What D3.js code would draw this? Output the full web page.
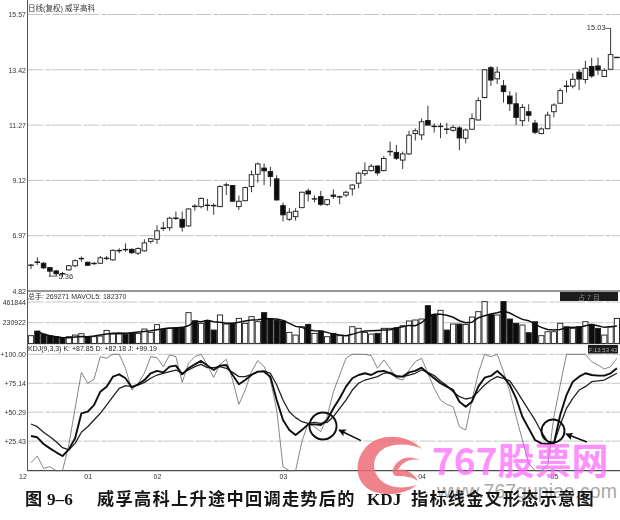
<!DOCTYPE html>
<html lang="zh">
<head>
<meta charset="utf-8">
<script src="https://d3js.org/d3.v7.min.js"></script>
<style>
html,body{margin:0;padding:0;background:#fff;}
svg{display:block;}
text{font-family:"Liberation Sans","Noto Sans CJK SC",sans-serif;}
</style>
</head>
<body>
<svg id="chart" width="620" height="520"></svg>
<script>
const opens=[5.81,5.95,5.90,5.73,5.60,5.50,5.64,5.80,6.07,5.94,5.88,5.90,6.08,6.03,6.38,6.44,6.44,6.29,6.38,6.75,6.83,7.27,7.28,7.66,7.61,7.35,8.12,8.10,8.16,8.15,8.10,8.93,8.92,8.10,8.33,8.88,9.36,9.60,9.47,9.18,8.14,7.61,7.71,8.06,8.71,8.39,8.49,8.19,8.55,8.47,8.55,8.79,9.01,9.38,9.50,9.68,9.50,10.23,10.21,9.91,10.15,10.94,10.89,11.45,11.23,11.21,11.12,11.07,11.16,10.76,11.11,11.47,12.34,13.50,13.07,12.80,12.40,12.10,11.44,11.79,11.35,10.94,11.13,11.79,12.12,12.79,12.79,13.33,13.04,13.55,13.57,13.16,13.44,13.89];
const closes=[5.83,5.93,5.72,5.59,5.49,5.48,5.80,6.00,6.09,5.82,5.90,6.11,6.10,6.40,6.40,6.42,6.31,6.47,6.69,6.85,7.16,7.25,7.65,7.64,7.30,8.01,8.10,8.42,8.14,8.13,8.88,8.95,8.31,8.31,8.84,9.34,9.76,9.49,9.27,8.36,7.78,7.88,7.92,8.66,8.59,8.41,8.19,8.37,8.50,8.49,8.66,8.94,9.40,9.50,9.67,9.41,9.97,10.25,9.98,10.15,10.88,11.05,11.40,11.27,11.21,11.23,11.10,11.18,10.77,11.08,11.52,12.22,13.42,13.02,13.33,12.57,12.10,11.57,11.96,11.65,10.99,11.12,11.66,12.05,12.61,12.77,13.05,13.06,13.48,13.18,13.41,13.40,14.01,13.91];
const highs=[5.87,6.13,5.95,5.73,5.64,5.56,5.82,6.05,6.16,5.96,5.94,6.18,6.18,6.44,6.48,6.67,6.48,6.52,6.83,6.88,7.38,7.51,7.71,7.91,7.91,8.03,8.20,8.46,8.40,8.23,8.93,9.03,8.94,8.53,8.88,9.50,9.82,9.78,9.65,9.32,8.26,8.04,8.04,8.68,8.81,8.54,8.71,8.40,8.77,8.53,8.72,8.97,9.46,9.82,9.76,9.72,10.07,10.63,10.50,10.24,11.05,11.14,11.53,12.02,11.34,11.36,11.36,11.27,11.23,11.14,11.73,12.35,13.44,13.57,13.54,13.02,12.59,12.54,12.09,12.08,11.47,11.18,11.79,12.12,12.70,13.00,13.28,13.44,13.77,13.89,13.90,13.48,15.03,13.92];
const lows=[5.67,5.83,5.67,5.38,5.41,5.36,5.61,5.74,5.96,5.80,5.83,5.87,6.03,6.00,6.29,6.35,6.25,6.22,6.35,6.67,6.65,7.16,7.16,7.58,7.13,7.32,7.94,8.03,7.94,7.78,8.08,8.55,8.30,7.97,8.31,8.66,9.03,8.94,8.88,8.33,7.52,7.54,7.56,8.04,8.30,8.27,8.13,8.13,8.40,8.19,8.46,8.53,8.81,9.29,9.46,9.31,9.47,10.07,9.91,9.56,10.11,10.67,10.69,11.27,10.98,10.76,10.92,11.01,10.30,10.56,11.08,11.44,12.31,12.79,12.87,12.14,11.82,11.27,11.23,11.40,10.92,10.91,11.11,11.57,12.09,12.54,12.70,12.63,12.89,13.11,13.22,13.15,13.41,13.88];
// volume, thousands of lots
const volumes=[86,138,101,86,75,67,75,93,108,75,75,82,145,104,104,101,115,112,160,123,209,156,168,175,175,343,253,224,253,149,317,216,224,279,224,298,242,343,279,261,250,123,93,186,212,112,138,75,112,86,86,186,168,123,104,112,168,168,175,197,250,261,272,421,324,369,149,216,216,212,294,354,466,324,317,466,272,224,205,119,242,86,130,130,224,186,168,186,242,212,168,93,186,279];
const maVol=[null,130,104,86,75,63,63,71,78,75,82,93,104,112,115,112,119,127,134,142,153,164,171,171,179,197,246,242,257,242,235,224,224,235,250,261,264,276,272,272,257,224,190,179,149,142,138,123,101,93,86,101,123,138,142,145,149,153,171,186,201,197,231,294,324,324,313,291,253,231,235,287,309,328,343,361,339,302,268,253,212,179,156,149,156,175,179,179,197,212,197,179,186,194];
const kLine=[29.8,28.7,22.9,19.2,15.8,12.6,18.3,27.8,49.3,50.7,56.4,67.9,72.2,80.8,82.8,79.4,71.6,74.2,77.9,83.7,85.7,84.5,89.4,90.3,82.8,88.0,91.4,94.3,90.3,86.5,90.3,90.8,82.2,74.2,77.9,82.2,85.1,85.1,80.8,60.7,43.6,35.0,30.7,35.0,39.8,39.8,39.3,43.6,53.6,62.2,72.2,79.4,82.2,83.7,82.2,85.1,85.7,83.7,80.8,80.8,84.5,85.7,88.5,83.7,79.4,75.1,72.2,69.3,59.3,55.0,59.3,72.2,79.9,81.4,85.7,80.8,73.6,62.2,46.4,36.4,26.4,23.5,22.9,23.5,47.9,65.0,76.5,80.8,83.7,82.2,81.7,81.7,83.7,88.0];
const dLine=[40.1,37.8,33.0,29.2,24.9,19.8,17.8,23.5,33.0,37.8,43.6,49.3,56.4,63.6,70.8,73.1,72.2,73.6,75.9,79.4,82.2,83.7,85.1,86.5,83.7,86.5,89.4,91.4,88.5,88.5,89.4,88.0,84.5,80.8,80.8,82.8,85.1,85.7,83.7,73.6,60.7,50.7,45.6,42.1,40.7,41.5,40.7,41.5,46.4,53.6,60.7,69.3,75.1,77.9,79.4,80.8,83.7,84.5,81.7,80.8,82.2,83.7,86.5,84.5,81.7,77.1,73.1,67.9,63.6,61.6,62.8,67.9,73.6,77.9,80.8,79.4,77.1,69.3,60.7,52.1,43.6,33.5,24.9,23.5,39.3,53.6,62.2,69.3,72.2,76.5,77.1,77.9,80.8,83.7];
const jLine=[6.9,12.6,2.0,3.4,0,0,22.1,53.6,84.5,75.1,78.5,98.0,96.6,100,100,88,69.3,75.1,83.7,98,97.1,89.4,99.4,98,75.9,92.3,98,100,90.8,80.2,91.4,95.7,77.9,57.0,69.3,85.1,94.6,89.4,77.9,52.1,3.4,0,0,24.9,40.7,37.8,33.5,46.4,67.9,82.2,96.6,100,100,100,98.9,88,95.1,88,79.4,77.9,86.5,93.7,96.6,83.7,70.8,60.7,57.0,55.0,37.8,35.0,60.7,83.7,100,98,100,85.1,67.9,46.4,26.4,6.3,0,0,4.9,46.4,73.6,100,100,100,100,93.7,90.8,87.4,89.4,96.6];
const priceTicks=[4.82,6.97,9.12,11.27,13.42,15.57];
const priceTickLabels=["4.82","6.97","9.12","11.27","13.42","15.57"];
const volTicks=[230.922,461.844];
const volTickLabels=["230922","461844"];
const kdjTicks=[25.43,50.29,75.14,100];
const kdjTickLabels=["+25.43","+50.29","+75.14","+100.00"];
const monthIdx=[-1.35,9,20,40,62,83];
const monthLabels=["12","01","02","03","04","05"];
const priceTitle="日线(复权)  威孚高科";
const volTitle="总手: 269271  MAVOL5: 182370";
const kdjTitle="KDJ(9,3,3) K: +87.85 D: +82.18 J: +99.19";

const svg=d3.select("#chart");
const defs=svg.append("defs");
defs.append("filter").attr("id","scan").attr("x",0).attr("y",0).attr("width",1).attr("height",1)
  .append("feGaussianBlur").attr("stdDeviation",0.35);
const root=svg.append("g").attr("filter","url(#scan)");

const x=d3.scaleLinear().domain([0,93]).range([31,616.9]);
const yP=d3.scaleLinear().domain([4.82,15.57]).range([291,14.5]);
const yV=d3.scaleLinear().domain([0,461.844]).range([343.4,302]);
const yK=d3.scaleLinear().domain([0,100]).range([470.7,354.3]);
const LEFT=27.5,RIGHT=620,bw=4.6,vbw=5.2;

function axis(scale,ticks,labels){
  const g=root.append("g").attr("transform",`translate(${LEFT},0)`)
    .call(d3.axisLeft(scale).tickValues(ticks).tickSize(0).tickPadding(1.5)
      .tickFormat((d,i)=>labels[i]));
  g.select(".domain").remove();
  g.selectAll("text").attr("font-size",7).attr("fill","#333");
  return g;
}
function grid(scale,ticks){
  root.append("g").selectAll("line").data(ticks).join("line")
    .attr("x1",LEFT).attr("x2",RIGHT).attr("y1",d=>scale(d)).attr("y2",d=>scale(d))
    .attr("stroke","#b5b5b5").attr("stroke-width",0.8).attr("stroke-dasharray","16 2 5 1 30 2");
}
grid(yP,priceTicks.slice(1));
grid(yV,volTicks);
grid(yK,kdjTicks);
axis(yP,priceTicks,priceTickLabels);
axis(yV,volTicks,volTickLabels);
axis(yK,kdjTicks,kdjTickLabels);

// frame lines
root.append("g").selectAll("line")
  .data([{a:LEFT,b:LEFT,c:0,d:470.7,w:1,s:"#555"},
         {a:LEFT,b:RIGHT,c:291,d:291,w:1,s:"#333"},
         {a:LEFT,b:RIGHT,c:343.8,d:343.8,w:0.8,s:"#777"}])
  .join("line").attr("x1",d=>d.a).attr("x2",d=>d.b).attr("y1",d=>d.c).attr("y2",d=>d.d)
  .attr("stroke",d=>d.s).attr("stroke-width",d=>d.w);

// month axis
const mAxis=root.append("g").attr("transform",`translate(0,${yK(0)})`)
  .call(d3.axisBottom(x).tickValues(monthIdx).tickSize(0).tickPadding(3)
    .tickFormat((d,i)=>monthLabels[i]));
mAxis.select(".domain").attr("d",`M${LEFT},0H${RIGHT}`).attr("stroke","#222").attr("stroke-width",1);
mAxis.selectAll("text").attr("font-size",7).attr("fill","#333");

// candles
const idx=d3.range(opens.length);
const isUp=i=>closes[i]>=opens[i];
const candles=root.append("g");
candles.selectAll("line").data(idx).join("line")
  .attr("x1",i=>x(i)).attr("x2",i=>x(i))
  .attr("y1",i=>yP(highs[i])).attr("y2",i=>yP(lows[i]))
  .attr("stroke","#222").attr("stroke-width",0.9);
candles.selectAll("rect").data(idx).join("rect")
  .attr("x",i=>x(i)-bw/2).attr("width",bw)
  .attr("y",i=>yP(Math.max(opens[i],closes[i])))
  .attr("height",i=>Math.abs(yP(opens[i])-yP(closes[i])))
  .attr("fill",i=>isUp(i)?"#fff":"#111").attr("stroke","#1a1a1a").attr("stroke-width",0.9);

// labelled extremes
const lowIdx=d3.minIndex(lows),highIdx=d3.maxIndex(highs);
root.append("text").attr("x",x(lowIdx)-4).attr("y",yP(lows[lowIdx])+2)
  .attr("font-size",7.5).attr("fill","#333").text(lows[lowIdx].toFixed(2));
root.append("line").attr("x1",x(3)-1).attr("x2",x(lowIdx)-5).attr("y1",yP(lows[lowIdx])-1).attr("y2",yP(lows[lowIdx])-1)
  .attr("stroke","#333").attr("stroke-width",0.8);
root.append("text").attr("x",x(highIdx)-5).attr("y",yP(highs[highIdx])+2)
  .attr("text-anchor","end").attr("font-size",7.5).attr("fill","#333").text(highs[highIdx].toFixed(2));
root.append("line").attr("x1",x(highIdx)-5).attr("x2",x(highIdx)).attr("y1",yP(highs[highIdx])).attr("y2",yP(highs[highIdx]))
  .attr("stroke","#333").attr("stroke-width",0.8);

// volume bars
root.append("g").selectAll("rect").data(idx).join("rect")
  .attr("x",i=>x(i)-vbw/2).attr("width",vbw)
  .attr("y",i=>yV(volumes[i])).attr("height",i=>yV(0)-yV(volumes[i]))
  .attr("fill",i=>isUp(i)?"#fff":"#111").attr("stroke","#1a1a1a").attr("stroke-width",0.9);
const mvLine=d3.line().defined(i=>maVol[i]!=null).x(i=>x(i)).y(i=>yV(maVol[i]));
root.append("path").attr("d",mvLine(idx)).attr("fill","none").attr("stroke","#111").attr("stroke-width",1.5);

// KDJ
function kdj(values,w,c){
  const l=d3.line().x((d,i)=>x(i)).y(d=>yK(d));
  root.append("path").attr("d",l(values)).attr("fill","none").attr("stroke",c).attr("stroke-width",w).attr("stroke-linejoin","round");
}
kdj(jLine,0.8,"#666");
kdj(dLine,1.3,"#222");
kdj(kLine,1.9,"#0c0c0c");

// titles
root.append("text").attr("x",28).attr("y",11).attr("font-size",7.5).attr("fill","#333").text(priceTitle);
root.append("text").attr("x",28).attr("y",299).attr("font-size",7).attr("fill","#333").text(volTitle);
root.append("text").attr("x",28).attr("y",351).attr("font-size",7).attr("fill","#222").text(kdjTitle);

// black boxes
root.append("rect").attr("x",560).attr("y",292).attr("width",58).attr("height",9).attr("fill","#1c1c1c");
root.append("text").attr("x",589).attr("y",299.5).attr("text-anchor","middle").attr("font-size",7).attr("fill","#888").text("占 7 目");
root.append("rect").attr("x",588).attr("y",345).attr("width",30).attr("height",8.5).attr("fill","#1c1c1c");
root.append("text").attr("x",603).attr("y",351.5).attr("text-anchor","middle").attr("font-size",6).attr("fill","#aaa").text("F:13 53 43");

// annotations
root.append("circle").attr("cx",323).attr("cy",426).attr("r",13.5).attr("fill","none").attr("stroke","#111").attr("stroke-width",1.9);
root.append("circle").attr("cx",553).attr("cy",431).attr("r",11.5).attr("fill","none").attr("stroke","#111").attr("stroke-width",1.9);
defs.append("marker").attr("id","ah").attr("viewBox","0 0 10 10").attr("refX",9).attr("refY",5)
  .attr("markerWidth",5).attr("markerHeight",5).attr("markerUnits","strokeWidth").attr("orient","auto")
  .append("path").attr("d","M0,0L10,5L0,10L2,5Z").attr("fill","#111");
root.append("g").selectAll("line").data([[361,440.7,339,430],[587,442,566,434]]).join("line")
  .attr("x1",d=>d[0]).attr("y1",d=>d[1]).attr("x2",d=>d[2]).attr("y2",d=>d[3])
  .attr("stroke","#111").attr("stroke-width",1.5).attr("marker-end","url(#ah)");

// watermark
const wm=svg.append("g");
wm.append("text").attr("x",437).attr("y",498).attr("font-size",19.5).attr("fill","#a8a8a8")
  .attr("style",'font-family:"Liberation Sans",sans-serif').text("www.767gupiao.com");

// caption
const capParts=[
 {t:"图",x:25,ls:0,f:'"Noto Sans CJK SC"',w:700},
 {t:"9–6",x:47,ls:0,f:'"Liberation Serif"',w:700},
 {t:"威孚高科上升途中回调走势后的",x:97,ls:1.3,f:'"Noto Sans CJK SC"',w:700},
 {t:"KDJ",x:367,ls:0,f:'"Liberation Serif"',w:700},
 {t:"指标线金叉形态示意图",x:411,ls:1.2,f:'"Noto Sans CJK SC"',w:700}];
const logo=svg.append("g").attr("fill","#ec6c75").attr("fill-opacity",0.85);
logo.append("path").attr("d","M422,449 C408,434 380,432 366,447 C353,462 355,483 372,491 C388,497 405,494 417,485 C400,490 385,487 378,477 C370,465 375,452 387,447 C398,443 412,444 422,449Z");
logo.append("path").attr("d","M393,469 C397,459 408,454 420,460 C410,458 402,462 398,470 C404,468 413,472 418,481 C410,476 403,476 396,476 C393,475 392,472 393,469Z");
svg.append("g").attr("filter","url(#scan)").selectAll("text").data(capParts).join("text")
  .attr("x",d=>d.x).attr("y",505).attr("font-size",17.2).attr("font-weight",d=>d.w)
  .attr("letter-spacing",d=>d.ls).attr("fill","#161616")
  .attr("style",d=>`font-family:${d.f},sans-serif`).text(d=>d.t);

wm.append("text").attr("x",432).attr("y",475).attr("font-size",37).attr("font-weight",700)
  .attr("fill","#ff66ff").attr("fill-opacity",0.72)
  .attr("style",'font-family:"Noto Sans CJK SC",sans-serif').text("767股票网");
</script>
</body>
</html>
